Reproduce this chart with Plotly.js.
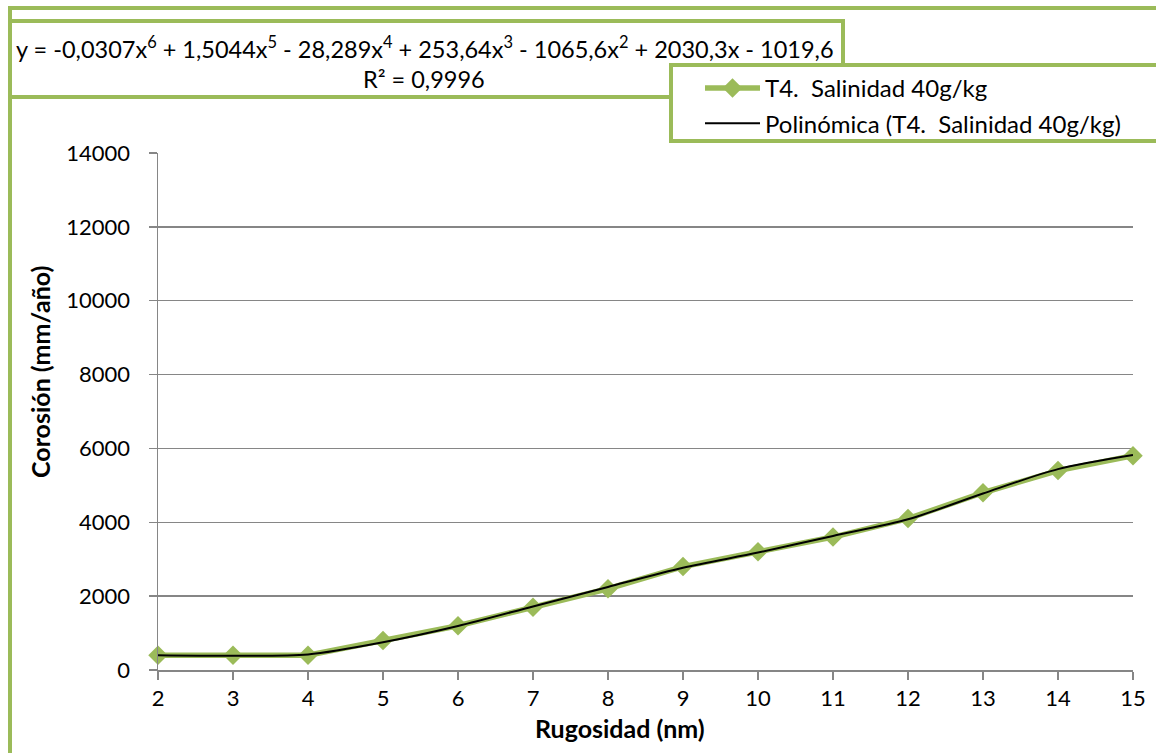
<!DOCTYPE html>
<html>
<head>
<meta charset="utf-8">
<script src="https://cdn.plot.ly/plotly-3.0.1.min.js"></script>
<style>html,body{margin:0;padding:0;background:#fff;}#chart{width:1156px;height:753px;}</style>
</head>
<body>
<div id="chart"></div>
<script>
// Data
const rugosidad = [2, 3, 4, 5, 6, 7, 8, 9, 10, 11, 12, 13, 14, 15];
const corrosion = [400, 400, 400, 800, 1200, 1700, 2200, 2800, 3200, 3600, 4100, 4800, 5400, 5800];
// Polynomial trendline
const trendX = [2, 3, 4, 5, 6, 7, 8, 9, 10, 11, 12, 13, 14, 15];
const trendY = [400, 385, 420, 750, 1190, 1720, 2250, 2770, 3180, 3630, 4080, 4780, 5440, 5820];
const seriesName = 'T4.  Salinidad 40g/kg';
const trendName = 'Polinómica (T4.  Salinidad 40g/kg)';
const eqText = 'y = -0,0307x<sup>6</sup> + 1,5044x<sup>5</sup> - 28,289x<sup>4</sup> + 253,64x<sup>3</sup> - 1065,6x<sup>2</sup> + 2030,3x - 1019,6';
const r2Text = 'R² = 0,9996';
const xTitle = 'Rugosidad (nm)';
const yTitle = 'Corosión (mm/año)';

const GREEN = '#9BBB59';
const GRID = '#868686';
const FONT = 'Lato, "Open Sans", sans-serif';

// pixel helpers (plot area: x 158..1133, y 153..670)
const L = 158, T = 153, W = 975, H = 517;
const px = x => (x - L) / W;
const py = y => (T + H - y) / H;

const traces = [
  {
    x: rugosidad, y: corrosion, name: seriesName, type: 'scatter', mode: 'lines+markers',
    line: {color: GREEN, width: 5.5},
    marker: {symbol: 'diamond', size: 15, color: GREEN},
    cliponaxis: false, legendgroup: 'a'
  },
  {
    x: trendX, y: trendY, name: trendName, type: 'scatter', mode: 'lines',
    line: {color: '#000000', width: 2, shape: 'spline', smoothing: 0.8},
    cliponaxis: false, legendgroup: 'b'
  }
];

const layout = {
  width: 1156, height: 753,
  margin: {l: L, r: 1156 - L - W, t: T, b: 753 - T - H, pad: 0},
  paper_bgcolor: '#ffffff', plot_bgcolor: '#ffffff',
  font: {family: FONT, size: 22, color: '#000'},
  showlegend: true,
  legend: {
    x: px(700), y: py(66), xanchor: 'left', yanchor: 'top',
    bgcolor: 'rgba(0,0,0,0)', borderwidth: 0,
    font: {family: FONT, size: 24, color: '#000'},
    itemwidth: 55, tracegroupgap: 1, traceorder: 'grouped'
  },
  xaxis: {
    range: [2, 15], tickvals: rugosidad, ticktext: rugosidad.map(String),
    showgrid: false, zeroline: false,
    showline: true, linecolor: GRID, linewidth: 1.5,
    ticks: 'outside', ticklen: 8, tickcolor: GRID, tickwidth: 1.5,
    ticklabelstandoff: 0,
    tickfont: {family: FONT, size: 22, color: '#000'}
  },
  yaxis: {
    range: [0, 14000], dtick: 2000, tickformat: 'd',
    showgrid: true, gridcolor: GRID, gridwidth: 1.5, zeroline: false,
    showline: true, linecolor: GRID, linewidth: 1.5,
    ticks: 'outside', ticklen: 8, tickcolor: GRID, tickwidth: 1.5,
    ticklabelstandoff: 14,
    tickfont: {family: FONT, size: 22, color: '#000'}
  },
  shapes: [
    {type: 'rect', xref: 'paper', yref: 'paper', x0: px(10), x1: px(1200), y0: py(800), y1: py(8),
     line: {color: GREEN, width: 4}, fillcolor: 'rgba(0,0,0,0)', layer: 'above'},
    {type: 'rect', xref: 'paper', yref: 'paper', x0: px(10), x1: px(843), y0: py(97), y1: py(21),
     line: {color: GREEN, width: 4}, fillcolor: '#ffffff', layer: 'above'},
    {type: 'rect', xref: 'paper', yref: 'paper', x0: px(671), x1: px(1200), y0: py(141), y1: py(65),
     line: {color: GREEN, width: 4}, fillcolor: '#ffffff', layer: 'above'}
  ],
  annotations: [
    {xref: 'paper', yref: 'paper', x: px(14), y: py(47), xanchor: 'left', yanchor: 'middle',
     text: eqText, showarrow: false, font: {family: FONT, size: 23.5, color: '#000'}},
    {xref: 'paper', yref: 'paper', x: px(424), y: py(79), xanchor: 'center', yanchor: 'middle',
     text: r2Text, showarrow: false, font: {family: FONT, size: 23.5, color: '#000'}},
    {xref: 'paper', yref: 'paper', x: px(620), y: py(728), xanchor: 'center', yanchor: 'middle',
     text: '<b>' + xTitle + '</b>', showarrow: false, font: {family: FONT, size: 25, color: '#000'}},
    {xref: 'paper', yref: 'paper', x: px(40), y: py(372), xanchor: 'center', yanchor: 'middle',
     text: '<b>' + yTitle + '</b>', textangle: -90, showarrow: false, font: {family: FONT, size: 25, color: '#000'}}
  ]
};

Plotly.newPlot('chart', traces, layout, {displayModeBar: false, staticPlot: true});
</script>
</body>
</html>
